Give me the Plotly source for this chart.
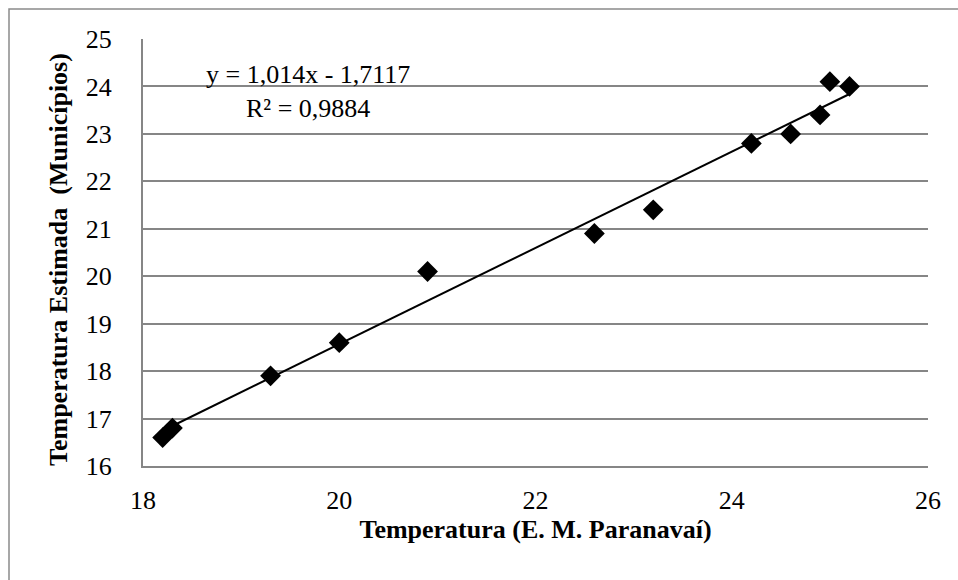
import plotly.graph_objects as go

# Observed temperatures (E. M. Paranavaí) vs. estimated temperatures (municípios)
temp_estacao = [18.2, 18.3, 19.3, 20.0, 20.9, 22.6, 23.2, 24.2, 24.6, 24.9, 25.0, 25.2]
temp_estimada = [16.6, 16.8, 17.9, 18.6, 20.1, 20.9, 21.4, 22.8, 23.0, 23.4, 24.1, 24.0]

# Linear trend coefficients
slope = 1.014
intercept = -1.7117
r2 = 0.9884

x_ticks = [18, 20, 22, 24, 26]
y_ticks = [16, 17, 18, 19, 20, 21, 22, 23, 24, 25]

font_family = "Liberation Serif"

x_line = [min(temp_estacao), max(temp_estacao)]
y_line = [slope * v + intercept for v in x_line]

fig = go.Figure()
fig.add_trace(go.Scatter(
    x=x_line, y=y_line, mode="lines",
    line=dict(color="black", width=2), showlegend=False, hoverinfo="skip"))
fig.add_trace(go.Scatter(
    x=temp_estacao, y=temp_estimada, mode="markers",
    marker=dict(symbol="diamond", size=16, color="black"),
    showlegend=False))

W, H = 958, 580
ml, mr, mt, mb = 143, 30, 39, 114
pw, ph = W - ml - mr, H - mt - mb

fmt = lambda v, d: f"{v:.{d}f}".replace(".", ",")
# trendline equation and R²
fig.add_annotation(
    x=(308 - ml) / pw, y=(H - mb - 91) / ph, xref="paper", yref="paper",
    xanchor="center", yanchor="middle", showarrow=False,
    text=f"y = {fmt(slope, 3)}x - {fmt(-intercept, 4)}<br>R² = {fmt(r2, 4)}",
    align="center", font=dict(family=font_family, size=26, color="black"))

# y-axis title
fig.add_annotation(
    x=(58 - ml) / pw, y=(H - mb - 260) / ph, xref="paper", yref="paper",
    xanchor="center", yanchor="middle", showarrow=False, textangle=-90,
    text="<b>Temperatura Estimada&nbsp; (Municípios)</b>",
    font=dict(family=font_family, size=26, color="black"))

# outer chart frame
fig.add_shape(type="rect", xref="paper", yref="paper",
              x0=(9 - ml) / pw, x1=1.2, y0=-0.5, y1=(H - mb - 9) / ph,
              line=dict(color="#8a8a8a", width=1.5), layer="below")

tick_font = dict(family=font_family, size=26, color="black")
title_font = dict(family=font_family, size=26, color="black")

fig.update_layout(
    width=W, height=H,
    margin=dict(l=ml, r=mr, t=mt, b=mb),
    paper_bgcolor="white", plot_bgcolor="white",
    font=dict(family=font_family, size=26, color="black"),
    xaxis=dict(
        range=[18, 26], tickvals=x_ticks, ticks="", showgrid=False,
        zeroline=False, showline=True, linecolor="#868686", linewidth=2,
        ticklabelstandoff=10, tickfont=tick_font,
        title=dict(text="<b>Temperatura (E. M. Paranavaí)</b>",
                   font=title_font, standoff=6)),
    yaxis=dict(
        range=[16, 25], tickvals=y_ticks, ticks="", showgrid=True,
        gridcolor="#868686", gridwidth=1.5, zeroline=False,
        showline=True, linecolor="#868686", linewidth=2,
        ticklabelstandoff=24, tickfont=tick_font),
)

fig.write_html("out.html")
